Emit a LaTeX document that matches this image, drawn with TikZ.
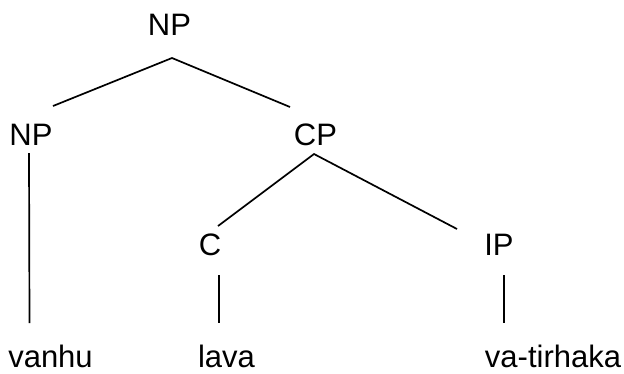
\documentclass[tikz,border=0pt]{standalone}
\usepackage{fontspec}
\setmainfont{Liberation Sans}
\usepackage{tikz}

\begin{document}
\begin{tikzpicture}[
  x=1pt, y=-1pt,
  font=\fontsize{31}{31}\selectfont,
  cat/.style={anchor=base, inner sep=0pt},
  leaf/.style={anchor=base, inner sep=0pt},
  branch/.style={line width=1.7pt},
]
\useasboundingbox (0,0) rectangle (624,373);

% ==================== categories ====================
\node[cat] (np0) at (169.5,35) {NP};
\node[cat] (np1) at (31,145) {NP};
\node[cat] (cp)  at (315.5,145) {CP};
\node[cat] (c)   at (210,255) {C};
\node[cat] (ip)  at (499,255) {IP};

% ==================== words ====================
\node[leaf] (vanhu) at (50.5,367) {vanhu};
\node[leaf] (lava)  at (226.5,367) {lava};
\node[leaf] (vatir) at (553,367) {va-tirhaka};

% ==================== branches ====================
\draw[branch] ([shift={(22,-39)}]np1.base) -- ([shift={(2.5,23)}]np0.base)
              -- ([shift={(-25.5,-38)}]cp.base);
\draw[branch] ([shift={(-2,8)}]np1.base) -- ([shift={(-21,-44)}]vanhu.base);
\draw[branch] ([shift={(8,-29)}]c.base) -- ([shift={(-1.5,9)}]cp.base)
              -- ([shift={(-42,-26)}]ip.base);
\draw[branch] ([shift={(9,20)}]c.base) -- ([shift={(-7.5,-44)}]lava.base);
\draw[branch] ([shift={(5,20)}]ip.base) -- ([shift={(-49,-44)}]vatir.base);

\end{tikzpicture}
\end{document}
